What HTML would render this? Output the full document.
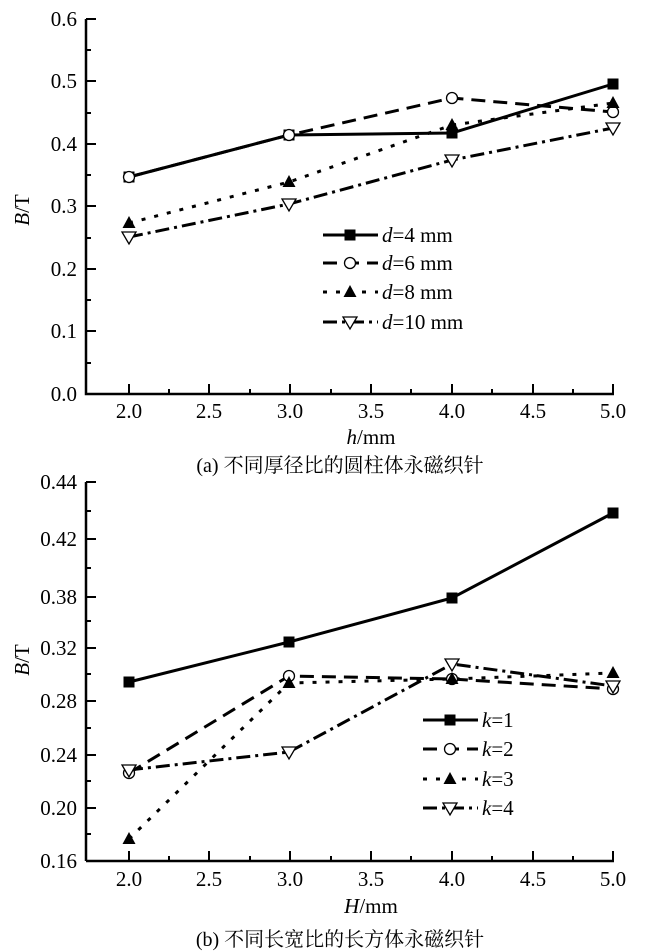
<!DOCTYPE html><html><head><meta charset="utf-8"><style>body{margin:0;background:#fff}svg{display:block}text{font-family:"Liberation Serif","Noto Serif CJK SC",serif;fill:#000}</style></head><body>
<svg width="650" height="952" viewBox="0 0 650 952">
<g stroke="#000" stroke-width="2.5" fill="none">
<path d="M86,19V394H614"/>
<path d="M86,861V482M86,861H614"/>
</g>
<g stroke="#000" stroke-width="2">
<path d="M129,394v-10M169,394v-5M209,394v-10M250,394v-5M290,394v-10M331,394v-5M371,394v-10M411,394v-5M452,394v-10M492,394v-5M533,394v-10M573,394v-5M613,394v-10"/>
<path d="M129,861v-10M169,861v-5M209,861v-10M250,861v-5M290,861v-10M331,861v-5M371,861v-10M411,861v-5M452,861v-10M492,861v-5M533,861v-10M573,861v-5M613,861v-10"/>
<path d="M86,394h10M86,363h5M86,331h10M86,300h5M86,269h10M86,238h5M86,206h10M86,175h5M86,144h10M86,113h5M86,81h10M86,50h5M86,19h10"/>
<path d="M86,861h10M86,834h5M86,808h10M86,781h5M86,755h10M86,728h5M86,701h10M86,674h5M86,648h10M86,621h5M86,597h10M86,568h5M86,539h10M86,511h5M86,482h10"/>
</g>
<g font-size="21" text-anchor="end">
<text x="77" y="401">0.0</text><text x="77" y="338">0.1</text><text x="77" y="276">0.2</text><text x="77" y="213">0.3</text><text x="77" y="151">0.4</text><text x="77" y="88">0.5</text><text x="77" y="26">0.6</text>
<text x="77" y="868">0.16</text><text x="77" y="815">0.20</text><text x="77" y="762">0.24</text><text x="77" y="708">0.28</text><text x="77" y="655">0.32</text><text x="77" y="604">0.38</text><text x="77" y="546">0.42</text><text x="77" y="489">0.44</text>
</g>
<g font-size="21" text-anchor="middle">
<text x="129" y="418">2.0</text><text x="209" y="418">2.5</text><text x="290" y="418">3.0</text><text x="371" y="418">3.5</text><text x="452" y="418">4.0</text><text x="533" y="418">4.5</text><text x="613" y="418">5.0</text>
<text x="129" y="886">2.0</text><text x="209" y="886">2.5</text><text x="290" y="886">3.0</text><text x="371" y="886">3.5</text><text x="452" y="886">4.0</text><text x="533" y="886">4.5</text><text x="613" y="886">5.0</text>
<text x="371" y="444"><tspan font-style="italic">h</tspan>/mm</text>
<text x="371" y="913"><tspan font-style="italic">H</tspan>/mm</text>
<text x="340" y="472" font-size="20">(a) 不同厚径比的圆柱体永磁织针</text>
<text x="340" y="946" font-size="20">(b) 不同长宽比的长方体永磁织针</text>
<text transform="translate(29,210) rotate(-90)"><tspan font-style="italic">B</tspan>/T</text>
<text transform="translate(29,660) rotate(-90)"><tspan font-style="italic">B</tspan>/T</text>
</g>
<defs>
<rect id="sq" x="-5.5" y="-5.5" width="11" height="11" fill="#000"/>
<circle id="ci" r="5.5" fill="#fff" stroke="#000" stroke-width="1.3"/>
<path id="tr" d="M0,-7L6.5,5H-6.5Z" fill="#000"/>
<path id="it" d="M-7,-5H7L0,7Z" fill="#fff" stroke="#000" stroke-width="1.3"/>
</defs>
<g fill="none" stroke="#000" stroke-width="3">
<polyline points="129,177 289,135 452,133 613,84"/>
<polyline points="129,177 289,135 452,98 613,112" stroke-dasharray="14,8"/>
<polyline points="129,223 289,182 452,125 613,103" stroke-dasharray="4,9"/>
<polyline points="129,237 289,204 452,160 613,128" stroke-dasharray="14,5,3,5"/>
<polyline points="129,682 289,642 452,598 613,513"/>
<polyline points="129,773 289,676 452,679 613,689" stroke-dasharray="14,8"/>
<polyline points="129,839 289,683 452,679 613,673" stroke-dasharray="4,9"/>
<polyline points="129,770 289,752 452,664 613,686" stroke-dasharray="14,5,3,5"/>
<line x1="323" y1="235" x2="378" y2="235"/>
<line x1="323" y1="263" x2="378" y2="263" stroke-dasharray="14,8"/>
<line x1="323" y1="292" x2="378" y2="292" stroke-dasharray="4,9"/>
<line x1="323" y1="322" x2="378" y2="322" stroke-dasharray="14,5,3,5"/>
<line x1="423" y1="720" x2="478" y2="720"/>
<line x1="423" y1="749" x2="478" y2="749" stroke-dasharray="14,8"/>
<line x1="423" y1="779" x2="478" y2="779" stroke-dasharray="4,9"/>
<line x1="423" y1="808" x2="478" y2="808" stroke-dasharray="14,5,3,5"/>
</g>
<use href="#sq" x="129" y="177"/><use href="#sq" x="289" y="135"/><use href="#sq" x="452" y="133"/><use href="#sq" x="613" y="84"/>
<use href="#ci" x="129" y="177"/><use href="#ci" x="289" y="135"/><use href="#ci" x="452" y="98"/><use href="#ci" x="613" y="112"/>
<use href="#tr" x="129" y="223"/><use href="#tr" x="289" y="182"/><use href="#tr" x="452" y="125"/><use href="#tr" x="613" y="103"/>
<use href="#it" x="129" y="237"/><use href="#it" x="289" y="204"/><use href="#it" x="452" y="160"/><use href="#it" x="613" y="128"/>
<use href="#sq" x="129" y="682"/><use href="#sq" x="289" y="642"/><use href="#sq" x="452" y="598"/><use href="#sq" x="613" y="513"/>
<use href="#ci" x="129" y="773"/><use href="#ci" x="289" y="676"/><use href="#ci" x="452" y="679"/><use href="#ci" x="613" y="689"/>
<use href="#tr" x="129" y="839"/><use href="#tr" x="289" y="683"/><use href="#tr" x="452" y="679"/><use href="#tr" x="613" y="673"/>
<use href="#it" x="129" y="770"/><use href="#it" x="289" y="752"/><use href="#it" x="452" y="664"/><use href="#it" x="613" y="686"/>
<use href="#sq" x="350" y="235"/><use href="#ci" x="350" y="263"/><use href="#tr" x="350" y="292"/><use href="#it" x="350" y="322"/>
<use href="#sq" x="450" y="720"/><use href="#ci" x="450" y="749"/><use href="#tr" x="450" y="779"/><use href="#it" x="450" y="808"/>
<g font-size="21">
<text x="382" y="242"><tspan font-style="italic">d</tspan>=4 mm</text>
<text x="382" y="270"><tspan font-style="italic">d</tspan>=6 mm</text>
<text x="382" y="299"><tspan font-style="italic">d</tspan>=8 mm</text>
<text x="382" y="329"><tspan font-style="italic">d</tspan>=10 mm</text>
<text x="482" y="727"><tspan font-style="italic">k</tspan>=1</text>
<text x="482" y="756"><tspan font-style="italic">k</tspan>=2</text>
<text x="482" y="786"><tspan font-style="italic">k</tspan>=3</text>
<text x="482" y="815"><tspan font-style="italic">k</tspan>=4</text>
</g>
</svg></body></html>
